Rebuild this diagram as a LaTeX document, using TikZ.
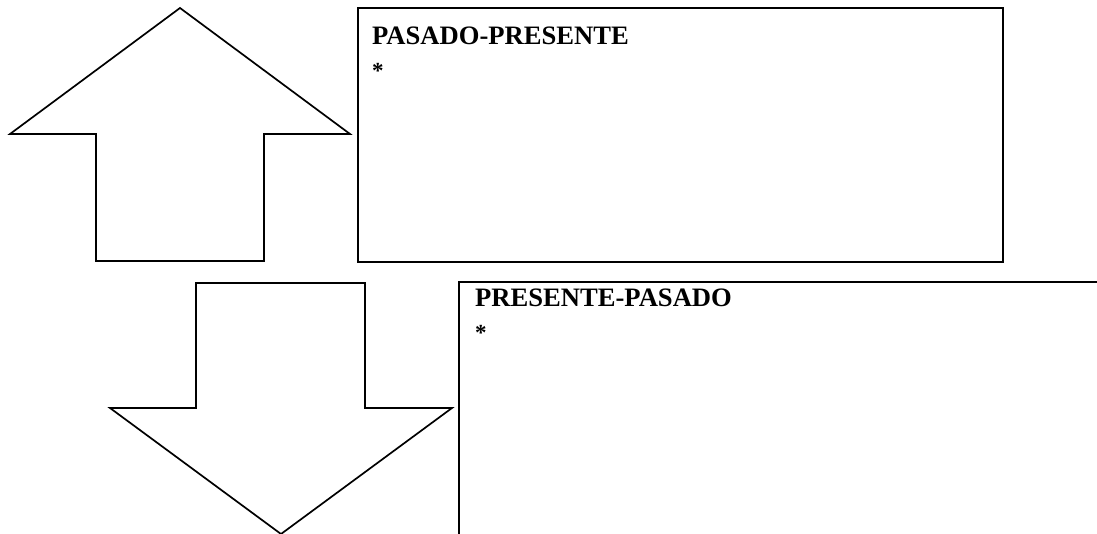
\documentclass[tikz,border=0pt]{standalone}
\usepackage{fontspec}
\setmainfont{Liberation Serif}
\begin{document}
\begin{tikzpicture}[x=1pt,y=-1pt]
	\tikzstyle{every node}+=[inner sep=0pt]
	\tikzstyle{arrowline}=[black,line width=1.7pt]
	\tikzstyle{boxline}=[black,line width=2.2pt]
	\tikzstyle{title}=[anchor=base west,font=\fontsize{26.6}{30}\selectfont\bfseries]
	\tikzstyle{star}=[anchor=base west,font=\fontsize{23}{27}\selectfont\bfseries]
	\useasboundingbox (0,0) rectangle (1097,534);
	\draw [arrowline] (180,8) -- (350,134) -- (264,134) -- (264,261) -- (96,261) -- (96,134) -- (10,134) -- cycle;
	\draw [boxline] (358,8) rectangle (1003,262);
	\draw (372,45) node [title] (pasado) {PASADO-PRESENTE};
	\draw (372,79) node [star] (pasadostar) {*};
	\draw [arrowline] (196,283) -- (365,283) -- (365,408) -- (452,408) -- (281,534) -- (110,408) -- (196,408) -- cycle;
	\draw [boxline] (1097,282) -- (459,282) -- (459,534);
	\draw (475,307) node [title] (presente) {PRESENTE-PASADO};
	\draw (475,341) node [star] (presentestar) {*};
\end{tikzpicture}
\end{document}
